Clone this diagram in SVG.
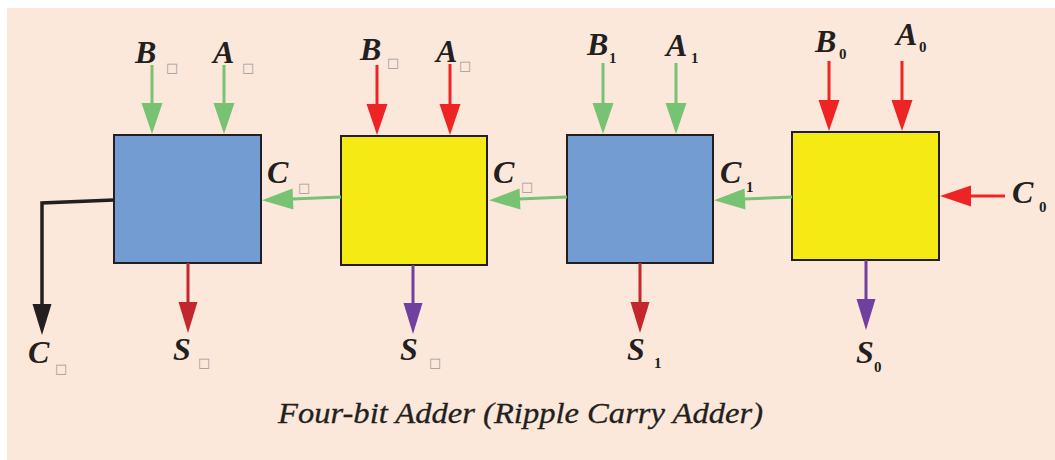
<svg xmlns="http://www.w3.org/2000/svg" width="1055" height="460" viewBox="0 0 1055 460">
  <style>
    .bg { fill: #FCE8DA; }
    .blk { stroke: #231F20; stroke-width: 2; }
    .blue { fill: #739CD2; }
    .yellow { fill: #F5EA14; }
    .lbl { font-family: "Liberation Serif", "Times New Roman", serif; font-style: italic; font-weight: bold; font-size: 32px; fill: #231F20; }
    .sub { font-family: "Liberation Serif", "Times New Roman", serif; font-weight: bold; font-size: 15px; fill: #231F20; }
    .tofu { font-family: "DejaVu Sans", sans-serif; font-size: 13px; fill: #9a9a9a; }
    .title { font-family: "Liberation Serif", "Times New Roman", serif; font-style: italic; font-size: 30px; fill: #231F20; stroke: #231F20; stroke-width: 0.3; }
    .w { fill: none; stroke-width: 3; }
    .g { stroke: #77C373; }
    .r { stroke: #EE2424; }
    .dr { stroke: #C1272D; }
    .p { stroke: #7040A0; }
    .k { stroke: #231F20; stroke-width: 3.5; }
  </style>
  <defs>
    <marker id="ah-g" markerUnits="userSpaceOnUse" markerWidth="31" markerHeight="21" refX="1" refY="10.5" orient="auto" overflow="visible"><path d="M0,0 L31,10.5 L0,21 z" fill="#77C373"/></marker>
    <marker id="ah-r" markerUnits="userSpaceOnUse" markerWidth="31" markerHeight="21" refX="1" refY="10.5" orient="auto" overflow="visible"><path d="M0,0 L31,10.5 L0,21 z" fill="#EE2424"/></marker>
    <marker id="ah-dr" markerUnits="userSpaceOnUse" markerWidth="31" markerHeight="19" refX="1" refY="9.5" orient="auto" overflow="visible"><path d="M0,0 L31,9.5 L0,19 z" fill="#C1272D"/></marker>
    <marker id="ah-p" markerUnits="userSpaceOnUse" markerWidth="31" markerHeight="19" refX="1" refY="9.5" orient="auto" overflow="visible"><path d="M0,0 L31,9.5 L0,19 z" fill="#7040A0"/></marker>
    <marker id="ah-k" markerUnits="userSpaceOnUse" markerWidth="31" markerHeight="19" refX="1" refY="9.5" orient="auto" overflow="visible"><path d="M0,0 L31,9.5 L0,19 z" fill="#231F20"/></marker>
  </defs>

  <rect class="bg" x="7" y="8" width="1048" height="452"/>

  <!-- full adder blocks, most significant on the left -->
  <g id="fa3">
    <rect class="blue blk" x="114" y="135" width="147" height="128"/>
  </g>
  <g id="fa2">
    <rect class="yellow blk" x="341" y="136" width="146" height="129"/>
  </g>
  <g id="fa1">
    <rect class="blue blk" x="567" y="135" width="146" height="128"/>
  </g>
  <g id="fa0">
    <rect class="yellow blk" x="792" y="132" width="147" height="128"/>
  </g>

  <g id="connectors">
    <!-- operand inputs -->
    <line class="w g" x1="152" y1="65" x2="152" y2="104" marker-end="url(#ah-g)"/>
    <line class="w g" x1="224" y1="65" x2="224" y2="104" marker-end="url(#ah-g)"/>
    <line class="w r" x1="377" y1="65" x2="377" y2="105" marker-end="url(#ah-r)"/>
    <line class="w r" x1="450" y1="64" x2="450" y2="105" marker-end="url(#ah-r)"/>
    <line class="w g" x1="603" y1="63" x2="603" y2="104" marker-end="url(#ah-g)"/>
    <line class="w g" x1="676" y1="63" x2="676" y2="104" marker-end="url(#ah-g)"/>
    <line class="w r" x1="829" y1="61" x2="829" y2="101" marker-end="url(#ah-r)"/>
    <line class="w r" x1="902" y1="61" x2="902" y2="101" marker-end="url(#ah-r)"/>
    <!-- carry chain -->
    <line class="w r" x1="1005" y1="196" x2="970" y2="196" marker-end="url(#ah-r)"/>
    <line class="w g" x1="792" y1="197" x2="744" y2="199" marker-end="url(#ah-g)"/>
    <line class="w g" x1="567" y1="197" x2="519" y2="199" marker-end="url(#ah-g)"/>
    <line class="w g" x1="341" y1="197" x2="292" y2="199" marker-end="url(#ah-g)"/>
    <path class="w k" d="M114,200 L42,203 L42,305" marker-end="url(#ah-k)"/>
    <!-- sum outputs -->
    <line class="w dr" x1="188" y1="263" x2="188" y2="303" marker-end="url(#ah-dr)"/>
    <line class="w p" x1="413" y1="265" x2="413" y2="304" marker-end="url(#ah-p)"/>
    <line class="w dr" x1="640" y1="263" x2="640" y2="303" marker-end="url(#ah-dr)"/>
    <line class="w p" x1="866" y1="260" x2="866" y2="300" marker-end="url(#ah-p)"/>
  </g>

  <!-- signal labels -->
  <g id="labels">
    <text class="lbl" x="135" y="63">B</text><text class="tofu" x="166" y="72">□</text>
    <text class="lbl" x="213" y="63">A</text><text class="tofu" x="242" y="72">□</text>
    <text class="lbl" x="360" y="60">B</text><text class="tofu" x="387" y="67">□</text>
    <text class="lbl" x="436" y="62">A</text><text class="tofu" x="459" y="70">□</text>
    <text class="lbl" x="587" y="55">B</text><text class="sub" x="609" y="63">1</text>
    <text class="lbl" x="666" y="56">A</text><text class="sub" x="691" y="63">1</text>
    <text class="lbl" x="815" y="52">B</text><text class="sub" x="839" y="59">0</text>
    <text class="lbl" x="896" y="45">A</text><text class="sub" x="919" y="52">0</text>

    <text class="lbl" x="267" y="183">C</text><text class="tofu" x="298" y="192">□</text>
    <text class="lbl" x="493" y="183">C</text><text class="tofu" x="521" y="191">□</text>
    <text class="lbl" x="720" y="183">C</text><text class="sub" x="746" y="192">1</text>
    <text class="lbl" x="1012" y="203">C</text><text class="sub" x="1039" y="212">0</text>

    <text class="lbl" x="28" y="363">C</text><text class="tofu" x="55" y="373">□</text>
    <text class="lbl" x="173" y="360">S</text><text class="tofu" x="198" y="367">□</text>
    <text class="lbl" x="400" y="360">S</text><text class="tofu" x="429" y="367">□</text>
    <text class="lbl" x="627" y="360">S</text><text class="sub" x="654" y="368">1</text>
    <text class="lbl" x="856" y="363">S</text><text class="sub" x="874" y="372">0</text>
  </g>

  <text class="title" x="278" y="423" textLength="485" lengthAdjust="spacingAndGlyphs">Four-bit Adder (Ripple Carry Adder)</text>
</svg>
